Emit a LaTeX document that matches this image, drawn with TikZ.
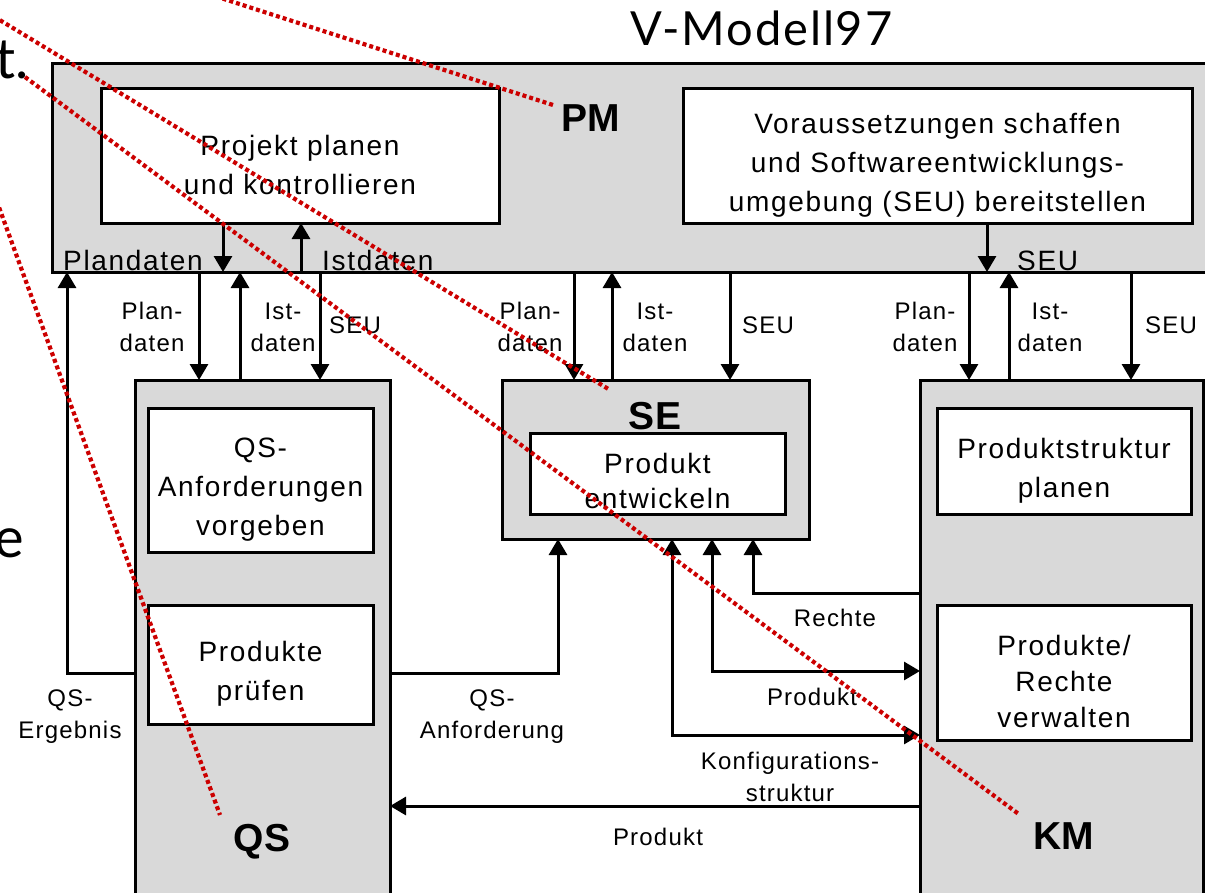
\documentclass[tikz,border=0pt]{standalone}
\usepackage{fontspec}
\setmainfont{Liberation Sans}
\newfontfamily\titlefont[LetterSpace=4]{Lato}
\newfontfamily\fragfont{Lato}
\newfontfamily\boxfont[LetterSpace=6]{Liberation Sans}
\newfontfamily\lblfont[LetterSpace=5]{Liberation Sans}
\usetikzlibrary{arrows.meta,calc}
\definecolor{boxgray}{RGB}{217,217,217}
\definecolor{dotred}{RGB}{204,0,0}
\newcommand{\topgap}{\rule{0pt}{39pt}}
\begin{document}
\begin{tikzpicture}[x=1pt,y=-1pt,
  grpbox/.style={draw=black,fill=boxgray,line width=3pt,anchor=north west,inner sep=0pt,outer sep=0pt},
  task/.style={draw=black,fill=white,line width=3pt,anchor=north west,inner sep=0pt,outer sep=0pt,align=center,font=\boxfont\fontsize{28}{39}\selectfont},
  grp/.style={font=\bfseries\fontsize{39}{45}\selectfont,inner sep=0pt},
  lbl/.style={font=\lblfont\fontsize{24}{32}\selectfont,align=center,inner sep=0pt},
  edgelbl/.style={font=\boxfont\fontsize{28}{34}\selectfont,inner sep=0pt,anchor=base west},
  flow/.style={line width=3pt,-{Triangle[width=18pt,length=16pt]}},
  flowtwo/.style={line width=3pt,{Triangle[width=18pt,length=16pt]}-{Triangle[width=18pt,length=16pt]}},
  pointer/.style={draw=dotred,line width=4.2pt,dash pattern=on 4pt off 3pt},
  frag/.style={font=\fragfont\fontsize{56}{60}\selectfont,inner sep=0pt,anchor=base east},
]
\useasboundingbox (0,0) rectangle (1205,892);
\clip (0,0) rectangle (1205,892);

% slide text fragments and title
\node[frag] (tfrag) at (29,78) {t.};
\node[frag] (efrag) at (24,557) {e};
\node[font=\titlefont\fontsize{47}{50}\selectfont,anchor=base west,inner sep=0pt] (title) at (630,45) {V-Modell97};

% PM
\node[grpbox,minimum width=1180pt,minimum height=209pt] (pm) at (52,63) {};
\node[task,minimum width=398pt,minimum height=135pt] (ppk) at (101,88) {\topgap Projekt planen\\und kontrollieren};
\node[task,minimum width=509pt,minimum height=135pt] (vor) at (683,88) {\topgap Voraussetzungen schaffen\\und Softwareentwicklungs-\\umgebung (SEU) bereitstellen};
\node[grp] (pmlbl) at (591,118) {PM};

% QS
\node[grpbox,minimum width=255pt,minimum height=540pt] (qs) at (135,380) {};
\node[task,minimum width=225pt,minimum height=144pt] (qsa) at (148,408) {\topgap QS-\\Anforderungen\\vorgeben};
\node[task,minimum width=225pt,minimum height=119pt] (qsp) at (148,605) {\topgap Produkte\\prüfen};
\node[grp] (qslbl) at (262,842) {QS};

% SE
\node[grpbox,minimum width=307pt,minimum height=159pt] (se) at (502,380) {};
\node[grp] (selbl) at (655,416) {SE};
\node[task,minimum width=255pt,minimum height=81pt] (sep) at (530,433) {\rule{0pt}{36pt}Produkt\\[-4pt]entwickeln};

% KM
\node[grpbox,minimum width=283pt,minimum height=540pt] (km) at (920,380) {};
\node[task,minimum width=254pt,minimum height=106pt] (kmp) at (937,408) {\topgap Produktstruktur\\planen};
\node[task,minimum width=254pt,minimum height=135pt] (kmv) at (937,605) {\topgap Produkte/\\[-3pt]Rechte\\[-3pt]verwalten};
\node[grp] (kmlbl) at (1064,836) {KM};

% connector positions
\coordinate (xa) at (223,0);
\coordinate (xb) at (301,0);
\coordinate (xc) at (987,0);
\coordinate (cqe) at (67,673);
\coordinate (q1) at (199,0);
\coordinate (q2) at (240,0);
\coordinate (q3) at (320,0);
\coordinate (s1) at (574,0);
\coordinate (s2) at (612,0);
\coordinate (s3) at (730,0);
\coordinate (k1) at (969,0);
\coordinate (k2) at (1009,0);
\coordinate (k3) at (1131,0);
\coordinate (cqa) at (558,673);
\coordinate (ckonf) at (672,735);
\coordinate (cprod) at (712,671);
\coordinate (crecht) at (753,593);
\coordinate (cprodq) at (0,806);

% PM internal
\draw[flow] (ppk.south -| xa) -- (pm.south -| xa);
\draw[flow] (pm.south -| xb) -- (ppk.south -| xb);
\draw[flow] (vor.south -| xc) -- (pm.south -| xc);
\node[edgelbl] (lplan) at (63,270) {Plandaten};
\node[edgelbl] (list) at (322,270) {Istdaten};
\node[edgelbl] (lseu) at (1017,270) {SEU};

% PM <-> QS
\draw[flow] (qs.west |- cqe) -| (pm.south -| cqe);
\draw[flow] (pm.south -| q1) -- (qs.north -| q1);
\draw[flow] (qs.north -| q2) -- (pm.south -| q2);
\draw[flow] (pm.south -| q3) -- (qs.north -| q3);
% PM <-> SE
\draw[flow] (pm.south -| s1) -- (se.north -| s1);
\draw[flow] (se.north -| s2) -- (pm.south -| s2);
\draw[flow] (pm.south -| s3) -- (se.north -| s3);
% PM <-> KM
\draw[flow] (pm.south -| k1) -- (km.north -| k1);
\draw[flow] (km.north -| k2) -- (pm.south -| k2);
\draw[flow] (pm.south -| k3) -- (km.north -| k3);

% labels below PM
\node[lbl] (lq1) at (152,327) {Plan-\\daten};
\node[lbl] (lq2) at (283,327) {Ist-\\daten};
\node[lbl] (lq3) at (355,325) {SEU};
\node[lbl] (ls1) at (530,327) {Plan-\\daten};
\node[lbl] (ls2) at (655,327) {Ist-\\daten};
\node[lbl] (ls3) at (768,325) {SEU};
\node[lbl] (lk1) at (925,327) {Plan-\\daten};
\node[lbl] (lk2) at (1050,327) {Ist-\\daten};
\node[lbl] (lk3) at (1171,325) {SEU};

% lower flows
\draw[flow] (qs.east |- cqa) -| (se.south -| cqa);
\draw[flowtwo] (se.south -| ckonf) |- (km.west |- ckonf);
\draw[flowtwo] (se.south -| cprod) |- (km.west |- cprod);
\draw[flow] (km.west |- crecht) -| (se.south -| crecht);
\draw[flow] (km.west |- cprodq) -- (qs.east |- cprodq);

\node[lbl] (lqe) at (70,717) {QS-\\Ergebnis};
\node[lbl] (lqa) at (492,717) {QS-\\Anforderung};
\node[lbl] (lre) at (835,618) {Rechte};
\node[lbl] (lpr) at (812,697) {Produkt};
\node[lbl] (lko) at (790,777) {Konfigurations-\\struktur};
\node[lbl] (lpq) at (658,837) {Produkt};

% red dotted pointers
\coordinate (p1a) at (-30,2);
\coordinate (p1b) at (610,390);
\coordinate (p2a) at (25,77);
\coordinate (p2b) at (1020,815);
\coordinate (p3a) at (196,-10);
\coordinate (p3b) at (553,105);
\coordinate (p4a) at (-20,155);
\coordinate (p4b) at (220,815);
\draw[pointer] (p1a) -- (p1b);
\draw[pointer] (p2a) -- (p2b);
\draw[pointer] (p3a) -- (p3b);
\draw[pointer] (p4a) -- (p4b);
\end{tikzpicture}
\end{document}
